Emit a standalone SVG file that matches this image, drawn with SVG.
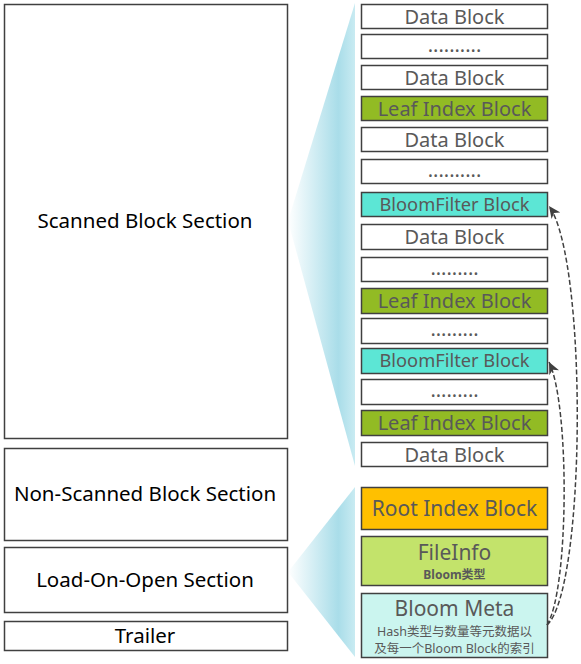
<svg xmlns="http://www.w3.org/2000/svg" width="581" height="664" viewBox="0 0 581 664">
<defs>
<linearGradient id="wedge" x1="288" y1="0" x2="355" y2="0" gradientUnits="userSpaceOnUse">
<stop offset="0" stop-color="#ffffff"/>
<stop offset="0.75" stop-color="#a9dde9"/>
<stop offset="1" stop-color="#c9ebf2"/>
</linearGradient>
<marker id="arr" markerWidth="13" markerHeight="11" refX="12" refY="5.5" orient="auto" markerUnits="userSpaceOnUse">
<path d="M0,0 L12,5.5 L0,11 L3.5,5.5 Z" fill="#404040"/>
</marker>
<style>
.box{stroke:#404040;stroke-width:1.5}
.sec{fill:#ffffff}
.data{fill:#ffffff}
.leaf{fill:#92bb24}
.bf{fill:#5ce6d5}
.root{fill:#ffc000}
.fi{fill:#c3e36b}
.bm{fill:#cbf5ef}
.lt{font-family:"Noto Sans","Open Sans","Liberation Sans",sans-serif;font-size:20.5px;fill:#000000;text-anchor:middle}
.rt{font-family:"Noto Sans","Open Sans","Liberation Sans",sans-serif;font-size:20px;fill:#595959;text-anchor:middle}
.big{font-size:21px}
.bfs{font-size:18.3px}
.sm{font-family:"Noto Sans","Noto Sans CJK SC",sans-serif;font-size:12.5px;fill:#595959;text-anchor:middle}
.conn{fill:none;stroke:#404040;stroke-width:1.5;stroke-dasharray:5 2.5}
</style>
</defs>
<g id="wedges">
<polygon points="288,221 355,3 355,466" fill="url(#wedge)"/>
<polygon points="288,572 355,487 355,657" fill="url(#wedge)"/>
</g>
<g id="scanned"><rect class="box sec" x="4.5" y="4.5" width="283" height="434"/><text class="lt" x="145" y="228">Scanned Block Section</text></g>
<g id="nonscanned"><rect class="box sec" x="4.5" y="448.5" width="283" height="92"/><text class="lt" x="145" y="501">Non-Scanned Block Section</text></g>
<g id="loadonopen"><rect class="box sec" x="4.5" y="547.5" width="283" height="65"/><text class="lt" x="145" y="587">Load-On-Open Section</text></g>
<g id="trailer"><rect class="box sec" x="4.5" y="621.5" width="283" height="29"/><text class="lt" x="145" y="643">Trailer</text></g>

<g id="r1"><rect class="box data" x="361.5" y="4.5" width="186" height="24"/><text class="rt" x="454.5" y="23.5">Data Block</text></g>
<g id="r2"><rect class="box data" x="361.5" y="34.5" width="186" height="24"/><text class="rt" x="454.5" y="52">..........</text></g>
<g id="r3"><rect class="box data" x="361.5" y="65.5" width="186" height="24"/><text class="rt" x="454.5" y="84.5">Data Block</text></g>
<g id="r4"><rect class="box leaf" x="361.5" y="96.5" width="186" height="24"/><text class="rt" x="454.5" y="115.5">Leaf Index Block</text></g>
<g id="r5"><rect class="box data" x="361.5" y="127.5" width="186" height="24"/><text class="rt" x="454.5" y="146.5">Data Block</text></g>
<g id="r6"><rect class="box data" x="361.5" y="159.5" width="186" height="24"/><text class="rt" x="454.5" y="177">..........</text></g>
<g id="r7"><rect class="box bf" x="361.5" y="192.5" width="186" height="24"/><text class="rt bfs" x="454.5" y="210.5">BloomFilter Block</text></g>
<g id="r8"><rect class="box data" x="361.5" y="224.5" width="186" height="25"/><text class="rt" x="454.5" y="243.5">Data Block</text></g>
<g id="r9"><rect class="box data" x="361.5" y="257.5" width="186" height="24"/><text class="rt" x="454.5" y="275">.........</text></g>
<g id="r10"><rect class="box leaf" x="361.5" y="288.5" width="186" height="25"/><text class="rt" x="454.5" y="307.5">Leaf Index Block</text></g>
<g id="r11"><rect class="box data" x="361.5" y="318.5" width="186" height="25"/><text class="rt" x="454.5" y="336">.........</text></g>
<g id="r12"><rect class="box bf" x="361.5" y="348.5" width="186" height="25"/><text class="rt bfs" x="454.5" y="367">BloomFilter Block</text></g>
<g id="r13"><rect class="box data" x="361.5" y="379.5" width="186" height="25"/><text class="rt" x="454.5" y="397">.........</text></g>
<g id="r14"><rect class="box leaf" x="361.5" y="410.5" width="186" height="25"/><text class="rt" x="454.5" y="429.5">Leaf Index Block</text></g>
<g id="r15"><rect class="box data" x="361.5" y="442.5" width="186" height="24"/><text class="rt" x="454.5" y="461.5">Data Block</text></g>

<g id="rootindex"><rect class="box root" x="361.5" y="487.5" width="186" height="42"/><text class="rt big" x="454.5" y="516">Root Index Block</text></g>
<g id="fileinfo"><rect class="box fi" x="361.5" y="536.5" width="186" height="49"/><text class="rt big" x="454.5" y="560">FileInfo</text><text class="sm" x="454.5" y="579" style="font-size:12px;font-weight:bold">Bloom类型</text></g>
<g id="bloommeta"><rect class="box bm" x="361.5" y="593.5" width="186" height="64"/><text class="rt big" x="454.5" y="616">Bloom Meta</text><text class="sm" x="454.5" y="636">Hash类型与数量等元数据以</text><text class="sm" x="454.5" y="653">及每一个Bloom Block的索引</text></g>

<g id="connectors">
<path class="conn" d="M547,625 C586,590 588,260 549,206" marker-end="url(#arr)"/>
<path class="conn" d="M547,625 C569,590 570,405 549,362" marker-end="url(#arr)"/>
</g>
</svg>
